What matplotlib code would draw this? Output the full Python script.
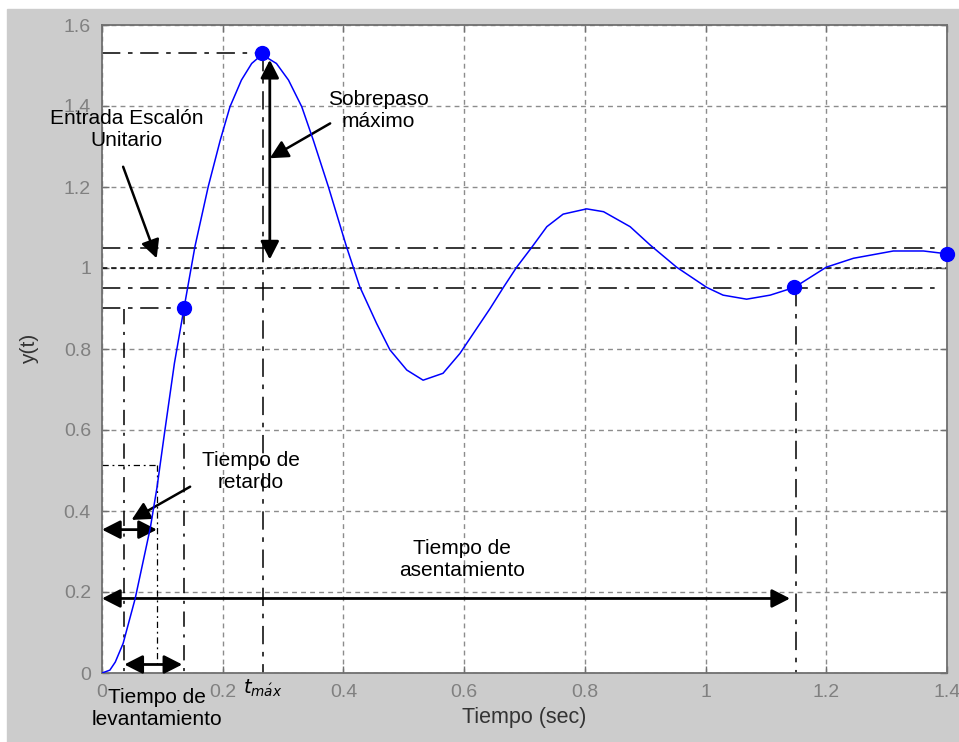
import matplotlib
matplotlib.use('Agg')
import matplotlib.pyplot as plt
from matplotlib.patches import Rectangle
from matplotlib.ticker import FuncFormatter

plt.rcParams['font.family'] = ['Liberation Sans', 'DejaVu Sans']

# step response
t_curve = [0.000, 0.013, 0.022, 0.035, 0.055, 0.080, 0.091, 0.104, 0.120, 0.136,
           0.154, 0.176, 0.196, 0.212, 0.231, 0.248, 0.265, 0.289, 0.309, 0.331,
           0.350, 0.375, 0.405, 0.427, 0.455, 0.477, 0.505, 0.532, 0.565, 0.593,
           0.643, 0.665, 0.687, 0.712, 0.737, 0.764, 0.803, 0.831, 0.875, 0.908,
           0.952, 1.002, 1.029, 1.068, 1.107, 1.147, 1.200, 1.245, 1.311, 1.361,
           1.400]
y_curve = [0.000, 0.007, 0.027, 0.073, 0.184, 0.358, 0.457, 0.597, 0.765, 0.902,
           1.053, 1.201, 1.316, 1.398, 1.464, 1.505, 1.527, 1.505, 1.464, 1.398,
           1.316, 1.201, 1.053, 0.954, 0.863, 0.798, 0.748, 0.723, 0.740, 0.789,
           0.900, 0.952, 1.002, 1.051, 1.102, 1.133, 1.146, 1.139, 1.102, 1.057,
           1.002, 0.952, 0.933, 0.923, 0.933, 0.952, 1.002, 1.024, 1.042, 1.042,
           1.035]

# highlighted points: 90% rise, peak, settling, end
mark_t = [0.136, 0.265, 1.147, 1.400]
mark_y = [0.902, 1.530, 0.952, 1.035]

t_rise0 = 0.037     # 10% rise time
t_rise1 = 0.136     # 90% rise time
t_delay = 0.091     # delay time
y_delay = 0.514
t_peak = 0.267
y_peak = 1.531
t_settle = 1.149
band_hi = 1.05
band_lo = 0.95

xticks = [0, 0.2, 0.4, 0.6, 0.8, 1.0, 1.2, 1.4]
yticks = [0, 0.2, 0.4, 0.6, 0.8, 1.0, 1.2, 1.4, 1.6]

gray_txt = '#808080'
dashdot_long = (0, (12, 5, 3, 5))
dashdot_thin = (0, (5, 3, 1.5, 3))

fig = plt.figure(figsize=(9.59, 7.42), dpi=100, facecolor='white')
fig.patches.append(Rectangle((7 / 959, 0), 1, 733 / 742, transform=fig.transFigure,
                             color='#cccccc', zorder=-10))
ax = fig.add_axes([102 / 959, 69 / 742, 845 / 959, 648 / 742])
ax.set_facecolor('white')

ax.set_xlim(0, 1.4)
ax.set_ylim(0, 1.6)
ax.set_xticks(xticks)
ax.set_yticks(yticks)
fmt = FuncFormatter(lambda v, p: '%g' % round(v, 2))
ax.xaxis.set_major_formatter(fmt)
ax.yaxis.set_major_formatter(fmt)
ax.tick_params(direction='in', length=5, width=1, colors='#707070', labelcolor=gray_txt,
               labelsize=14, pad=8, top=True, right=True)
for s in ax.spines.values():
    s.set_color('#707070')
    s.set_linewidth(1.3)
ax.grid(True, color='#8c8c8c', linestyle=(0, (3.5, 3)), linewidth=1)
ax.set_axisbelow(True)

ax.set_xlabel('Tiempo (sec)', fontsize=15.5, color='#333333', labelpad=4)
ax.set_ylabel('y(t)', fontsize=15, color='#333333')
ax.yaxis.set_label_coords(-0.075, 0.5)

# reference lines
ax.plot([0, 1.385], [band_hi, band_hi], color='black', lw=1.1, linestyle=dashdot_long)
ax.plot([0, 1.385], [band_lo, band_lo], color='black', lw=1.1, linestyle=dashdot_long)
ax.plot([0, 1.4], [1.0, 1.0], color='black', lw=1.1, linestyle=(0, (3.5, 2.5)))
ax.plot([0, t_peak], [y_peak, y_peak], color='black', lw=1.1, linestyle=dashdot_long)
ax.plot([t_peak, t_peak], [y_peak, 0], color='black', lw=1.1, linestyle=dashdot_long)
ax.plot([0, t_rise1], [0.901, 0.901], color='black', lw=1.1, linestyle=dashdot_long)
ax.plot([t_rise0, t_rise0], [0.9, 0], color='black', lw=1.1, linestyle=(0, (10, 5, 2, 5)))
ax.plot([t_rise1, t_rise1], [0.9, 0], color='black', lw=1.1, linestyle=(0, (10, 5, 2, 5)))
ax.plot([t_settle, t_settle], [band_lo, 0], color='black', lw=1.1, linestyle=dashdot_long)
ax.plot([0, t_delay], [y_delay, y_delay], color='black', lw=0.9, linestyle=dashdot_thin)
ax.plot([t_delay, t_delay], [y_delay, 0.02], color='black', lw=0.9, linestyle=dashdot_thin)

# response curve
ax.plot(t_curve, y_curve, color='#0000ff', lw=1.1, zorder=5)
ax.plot(mark_t, mark_y, 'o', color='#0000ff', ms=10, zorder=6, clip_on=False)

# double arrows
dbl = dict(arrowstyle='<|-|>,head_length=0.55,head_width=0.28', color='black', lw=2,
           mutation_scale=20, shrinkA=0, shrinkB=0)
ax.annotate('', xy=(t_delay, 0.354), xytext=(0, 0.354), arrowprops=dbl)
ax.annotate('', xy=(1.14, 0.184), xytext=(0, 0.184), arrowprops=dbl)
ax.annotate('', xy=(0.133, 0.021), xytext=(t_rise0, 0.021), arrowprops=dbl)
ax.annotate('', xy=(0.278, 1.514), xytext=(0.278, 1.021), arrowprops=dbl)

# labels with pointers
one = dict(arrowstyle='-|>,head_length=0.55,head_width=0.28', color='black', lw=1.8,
           mutation_scale=20, shrinkA=0, shrinkB=0)
ax.annotate('', xy=(0.278, 1.271), xytext=(0.378, 1.357), arrowprops=one)
ax.annotate('', xy=(0.0906, 1.024), xytext=(0.035, 1.25), arrowprops=one, annotation_clip=False)
ax.annotate('', xy=(0.049, 0.378), xytext=(0.146, 0.46), arrowprops=one)

txt = dict(fontsize=15, color='black', ha='center', va='center', linespacing=1.2)
ax.text(0.458, 1.390, 'Sobrepaso\nmáximo', **txt)
ax.text(0.041, 1.341, 'Entrada Escalón\nUnitario', **txt)
ax.text(0.246, 0.497, 'Tiempo de\nretardo', **txt)
ax.text(0.596, 0.281, 'Tiempo de\nasentamiento', **txt)
ax.text(0.091, -0.088, 'Tiempo de\nlevantamiento', clip_on=False, **txt)
ax.text(t_peak, -0.037, r'$t_{m\acute{a}x}$', fontsize=14, ha='center', va='center')

plt.savefig('out.png', dpi=100, facecolor=fig.get_facecolor())
